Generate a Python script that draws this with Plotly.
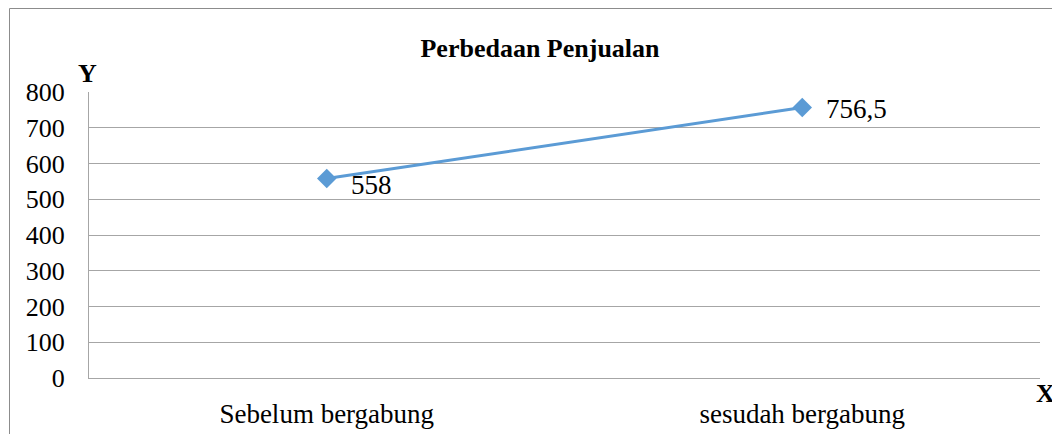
import plotly.graph_objects as go

categories = ["Sebelum bergabung", "sesudah bergabung"]
values = [558, 756.5]
value_labels = ["558", "756,5"]
y_ticks = [0, 100, 200, 300, 400, 500, 600, 700, 800]

FONT = "Liberation Serif"
LINE_COLOR = "#5B9BD5"
GRID = "#A6A6A6"

W, H = 1052, 426
L, R, T, B = 81, 20, 84, 56
PW = W - L - R
PH = H - T - B

fig = go.Figure()
fig.add_trace(go.Scatter(
    x=categories, y=values,
    mode="lines+markers",
    line=dict(color=LINE_COLOR, width=3),
    marker=dict(symbol="diamond", size=15, color=LINE_COLOR),
    cliponaxis=False,
    showlegend=False,
))

annotations = [
    dict(text=t, x=c, y=v, xref="x", yref="y", xanchor="left", yanchor="middle",
         xshift=22, yshift=(-6 if v < 600 else -1), showarrow=False,
         font=dict(family=FONT, size=27, color="black"))
    for c, v, t in zip(categories, values, value_labels)
]
annotations += [
    dict(text="<b>Y</b>", xref="paper", yref="paper", x=-2 / PW, y=1 + 19 / PH,
         xanchor="center", yanchor="middle", showarrow=False,
         font=dict(family=FONT, size=26, color="black")),
    dict(text="<b>X</b>", xref="paper", yref="paper", x=1 + 5 / PW, y=-15 / PH,
         xanchor="center", yanchor="middle", showarrow=False,
         font=dict(family=FONT, size=26, color="black")),
]

fig.update_layout(
    width=W, height=H,
    margin=dict(l=L, r=R, t=T, b=B),
    paper_bgcolor="white", plot_bgcolor="white",
    font=dict(family=FONT, size=26, color="black"),
    title=dict(text="<b>Perbedaan Penjualan</b>", x=532 / W, xanchor="center",
               y=1 - 40 / H, yanchor="middle",
               font=dict(family=FONT, size=26, color="black")),
    xaxis=dict(
        type="category", range=[-0.5, 1.5], automargin=False,
        showgrid=False, showline=True, linecolor=GRID, linewidth=1,
        zeroline=False, ticks="", ticklabelstandoff=12,
        tickfont=dict(family=FONT, size=27),
    ),
    yaxis=dict(
        range=[0, 800], tickvals=y_ticks, automargin=False,
        showgrid=True, gridcolor=GRID, gridwidth=1,
        showline=True, linecolor=GRID, linewidth=1,
        zeroline=False, ticks="", ticklabelstandoff=18,
        tickfont=dict(family=FONT, size=26),
    ),
    shapes=[dict(type="rect", xref="paper", yref="paper",
                 x0=(1.5 - L) / PW, x1=1 + 40 / PW,
                 y0=-(B + 20) / PH, y1=1 + (T - 0.5) / PH,
                 line=dict(color="#8C8C8C", width=1), fillcolor="rgba(0,0,0,0)",
                 layer="below")],
    annotations=annotations,
)

fig.write_html("out.html")
